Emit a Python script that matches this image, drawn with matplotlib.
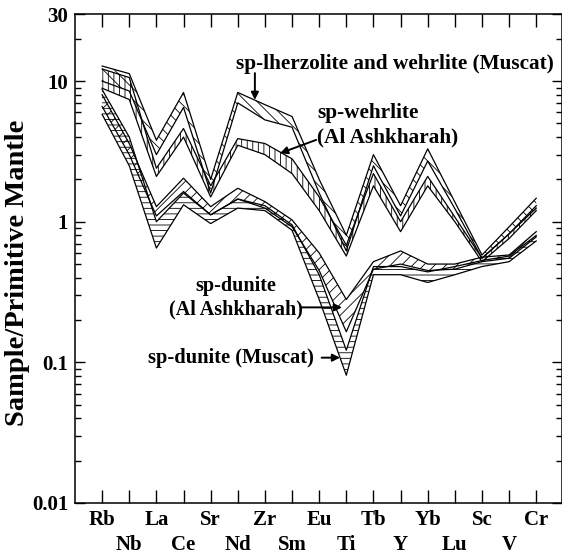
import matplotlib
matplotlib.use('Agg')
import matplotlib.pyplot as plt
from matplotlib.ticker import FixedLocator, LogLocator, NullFormatter

plt.rcParams['font.family'] = 'Liberation Serif'
plt.rcParams['font.weight'] = 'bold'
plt.rcParams['hatch.linewidth'] = 0.6

elements = ['Rb', 'Nb', 'La', 'Ce', 'Sr', 'Nd', 'Zr', 'Sm', 'Eu',
            'Ti', 'Tb', 'Y', 'Yb', 'Lu', 'Sc', 'V', 'Cr']

# sp-lherzolite and wehrlite (Muscat)
lherz_hi = [12.8, 11.3, 3.8, 8.3, 2.0, 8.3, 6.8, 5.6, 2.0, 0.80, 3.0, 1.3, 3.3, 1.38, 0.58, 0.92, 1.47]
lherz_lo = [10.0, 8.5, 3.0, 6.5, 1.6, 7.0, 5.3, 4.7, 1.6, 0.62, 2.5, 1.1, 2.7, 1.24, 0.55, 0.82, 1.25]
# sp-wehrlite (Al Ashkharah)
wehr_hi = [12.2, 10.6, 2.4, 4.6, 1.8, 3.9, 3.6, 2.8, 1.5, 0.68, 2.2, 1.0, 2.1, 1.08, 0.55, 0.82, 1.30]
wehr_lo = [8.9, 7.4, 2.1, 4.0, 1.5, 3.5, 3.0, 2.2, 1.2, 0.57, 1.8, 0.85, 1.8, 1.0, 0.52, 0.76, 1.20]
# sp-dunite (Al Ashkharah)
dunA_hi = [8.0, 3.6, 1.28, 2.04, 1.28, 1.73, 1.39, 1.03, 0.60, 0.28, 0.52, 0.62, 0.50, 0.50, 0.56, 0.58, 0.85]
dunA_lo = [6.6, 3.0, 1.10, 1.64, 1.12, 1.45, 1.25, 0.92, 0.45, 0.165, 0.46, 0.50, 0.45, 0.46, 0.52, 0.55, 0.78]
# sp-dunite (Muscat)
dunM_hi = [8.7, 4.0, 1.00, 1.60, 1.12, 1.45, 1.30, 0.95, 0.42, 0.122, 0.48, 0.48, 0.44, 0.48, 0.53, 0.57, 0.80]
dunM_lo = [5.8, 2.5, 0.65, 1.32, 0.97, 1.25, 1.20, 0.87, 0.28, 0.081, 0.42, 0.42, 0.37, 0.42, 0.48, 0.52, 0.73]

x = list(range(len(elements)))

fig = plt.figure(figsize=(5.62, 5.58), dpi=100)
ax = fig.add_axes([75 / 562, 55 / 558, 487 / 562, 489 / 558])

bands = [(lherz_hi, lherz_lo, '\\\\\\'),
         (wehr_hi, wehr_lo, '|||'),
         (dunA_hi, dunA_lo, '///'),
         (dunM_hi, dunM_lo, '---')]
for hi, lo, hatch in bands:
    ax.fill_between(x, lo, hi, facecolor='none', edgecolor='black', hatch=hatch, linewidth=0)
    ax.plot(x, hi, color='black', lw=0.9)
    ax.plot(x, lo, color='black', lw=0.9)

ax.set_yscale('log')
ax.set_ylim(0.01, 30)
ax.set_xlim(-1, 16.95)

ax.yaxis.set_major_locator(FixedLocator([0.01, 0.1, 1, 10, 30]))
ax.set_yticklabels(['0.01', '0.1', '1', '10', '30'])
ax.yaxis.set_minor_locator(LogLocator(base=10, subs=range(2, 10)))
ax.yaxis.set_minor_formatter(NullFormatter())

ax.set_xticks(x[0::2], elements[0::2])
ax.set_xticks(x[1::2], elements[1::2], minor=True)

ax.tick_params(axis='x', which='both', direction='in', length=9.5, width=1, top=True, labelsize=15)
ax.tick_params(axis='x', which='major', pad=5)
ax.tick_params(axis='x', which='minor', pad=23)
ax.tick_params(axis='y', which='major', direction='in', length=7, width=1, right=True, labelsize=15, pad=5)
ax.tick_params(axis='y', which='minor', direction='in', length=4.5, width=1, right=True)
for s in ax.spines.values():
    s.set_linewidth(1.1)

ax.set_ylabel('Sample/Primitive Mantle', fontsize=20.5, fontweight='bold')
ax.yaxis.set_label_coords(-0.092, 0.47)

arrow = dict(arrowstyle='-|>', color='black', lw=1.4, mutation_scale=11, shrinkA=0, shrinkB=0)

ax.text(10.8, 13.3, 'sp-lherzolite and wehrlite (Muscat)', fontsize=15.3, ha='center', va='center')
ax.annotate('', xy=(5.63, 7.35), xytext=(5.63, 11.4), arrowprops=arrow)

ax.text(7.92, 4.88, 'sp-wehrlite\n(Al Ashkharah)', fontsize=15.3, ha='left', va='center', linespacing=1.3)
ax.annotate('', xy=(6.56, 3.07), xytext=(7.89, 3.82), arrowprops=arrow)

ax.text(4.93, 0.287, 'sp-dunite\n(Al Ashkharah)', fontsize=14.5, ha='center', va='center',
        multialignment='center', linespacing=1.2)
ax.annotate('', xy=(8.84, 0.246), xytext=(7.35, 0.246), arrowprops=arrow)

ax.text(4.75, 0.108, 'sp-dunite (Muscat)', fontsize=14.8, ha='center', va='center')
ax.annotate('', xy=(8.77, 0.108), xytext=(8.09, 0.108), arrowprops=arrow)

fig.savefig('out.png', dpi=100)
